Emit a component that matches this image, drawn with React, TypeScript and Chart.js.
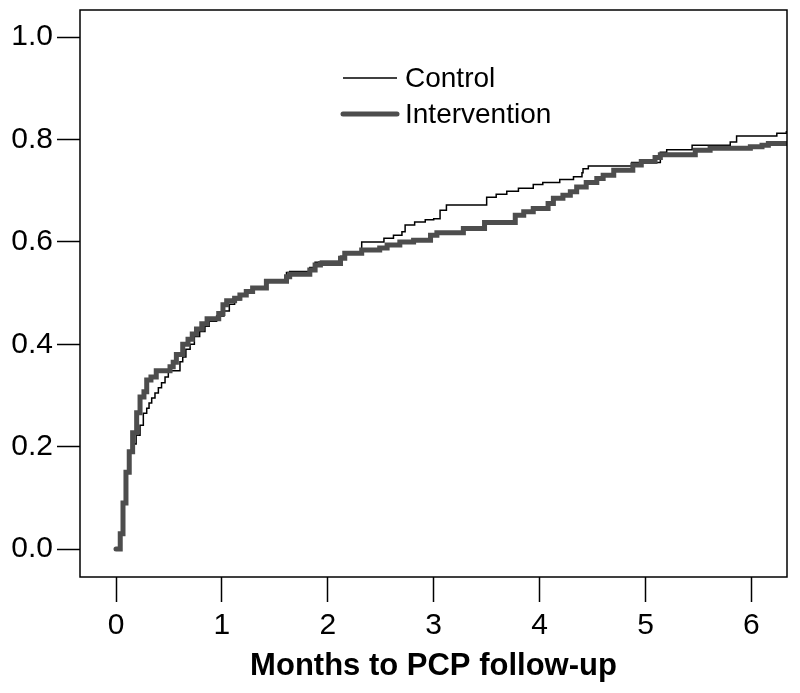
import React, { useEffect, useRef } from "react";
import { Chart, registerables } from "chart.js";

Chart.register(...registerables);

const controlMonths = [0, 0.04, 0.066, 0.094, 0.125, 0.157, 0.19, 0.227, 0.258, 0.29, 0.312, 0.337, 0.368, 0.4, 0.43, 0.463, 0.494, 0.604, 0.63, 0.66, 0.7, 0.74, 0.79, 0.84, 0.88, 0.95, 1.02, 1.07, 1.12, 1.18, 1.24, 1.3, 1.42, 1.61, 1.64, 1.83, 1.88, 1.93, 2.12, 2.16, 2.32, 2.53, 2.62, 2.7, 2.73, 2.82, 2.92, 3.0, 3.06, 3.12, 3.5, 3.59, 3.69, 3.8, 3.94, 4.03, 4.19, 4.32, 4.4, 4.41, 4.46, 4.87, 5.14, 5.2, 5.44, 5.8, 5.86, 6.24, 6.33, 6.4];
const controlProb = [0, 0.03, 0.09, 0.15, 0.19, 0.205, 0.222, 0.242, 0.265, 0.275, 0.285, 0.295, 0.305, 0.315, 0.325, 0.336, 0.348, 0.366, 0.375, 0.39, 0.4, 0.415, 0.425, 0.435, 0.445, 0.455, 0.465, 0.478, 0.487, 0.497, 0.503, 0.512, 0.525, 0.54, 0.542, 0.55, 0.56, 0.562, 0.572, 0.58, 0.6, 0.607, 0.613, 0.62, 0.633, 0.639, 0.643, 0.645, 0.662, 0.672, 0.687, 0.693, 0.699, 0.705, 0.712, 0.716, 0.722, 0.727, 0.735, 0.743, 0.748, 0.755, 0.775, 0.78, 0.789, 0.795, 0.807, 0.812, 0.815, 0.815];

const interventionMonths = [0, 0.04, 0.066, 0.094, 0.125, 0.157, 0.195, 0.227, 0.264, 0.29, 0.33, 0.38, 0.51, 0.54, 0.57, 0.63, 0.68, 0.72, 0.76, 0.81, 0.86, 0.97, 1.01, 1.045, 1.12, 1.17, 1.23, 1.29, 1.42, 1.61, 1.64, 1.83, 1.88, 1.93, 2.12, 2.16, 2.32, 2.49, 2.56, 2.68, 2.81, 2.97, 3.03, 3.28, 3.48, 3.77, 3.85, 3.94, 4.08, 4.13, 4.22, 4.29, 4.35, 4.44, 4.54, 4.6, 4.7, 4.88, 4.96, 5.09, 5.14, 5.47, 5.61, 5.99, 6.1, 6.16, 6.4];
const interventionProb = [0, 0.03, 0.09, 0.15, 0.19, 0.227, 0.266, 0.297, 0.307, 0.33, 0.336, 0.348, 0.356, 0.365, 0.38, 0.4, 0.41, 0.42, 0.43, 0.44, 0.45, 0.46, 0.477, 0.485, 0.49, 0.496, 0.503, 0.51, 0.523, 0.532, 0.537, 0.545, 0.555, 0.558, 0.568, 0.578, 0.584, 0.588, 0.594, 0.6, 0.603, 0.613, 0.618, 0.626, 0.638, 0.652, 0.659, 0.665, 0.675, 0.685, 0.691, 0.698, 0.707, 0.716, 0.724, 0.73, 0.74, 0.75, 0.757, 0.765, 0.77, 0.779, 0.783, 0.786, 0.789, 0.792, 0.792];

const seriesLabels = ["Control", "Intervention"];
const xTicks = [0, 1, 2, 3, 4, 5, 6];
const yTicks = [0, 0.2, 0.4, 0.6, 0.8, 1.0];
const xTitle = "Months to PCP follow-up";

const FONT = "'Liberation Sans', Arial, sans-serif";

const framePlugin = {
  id: "frameAndLegend",
  afterDatasetsDraw(chart: any) {
    const { ctx, chartArea } = chart;
    ctx.save();
    ctx.strokeStyle = "#000";
    ctx.lineWidth = 1.5;
    ctx.strokeRect(chartArea.left, chartArea.top, chartArea.right - chartArea.left, chartArea.bottom - chartArea.top);
    const items = chart.data.datasets;
    const x0 = 343, x1 = 397;
    const ys = [78, 114];
    items.forEach((ds: any, i: number) => {
      ctx.beginPath();
      ctx.strokeStyle = ds.borderColor;
      ctx.lineWidth = ds.borderWidth;
      ctx.lineCap = ds.borderCapStyle || "butt";
      ctx.moveTo(x0, ys[i]);
      ctx.lineTo(x1, ys[i]);
      ctx.stroke();
      ctx.fillStyle = "#000";
      ctx.font = `28px ${FONT}`;
      ctx.textBaseline = "middle";
      ctx.textAlign = "left";
      ctx.fillText(ds.label, 405, ys[i] + 1);
    });
    ctx.restore();
  },
};

export default function App() {
  const ref = useRef<HTMLCanvasElement | null>(null);
  useEffect(() => {
    if (!ref.current) return;
    const chart = new Chart(ref.current, {
      type: "line",
      data: {
        datasets: [
          {
            label: seriesLabels[0],
            data: controlMonths.map((m, i) => ({ x: m, y: controlProb[i] })),
            borderColor: "#000000",
            borderWidth: 1.5,
            stepped: true,
            pointRadius: 0,
            fill: false,
            order: 1,
          },
          {
            label: seriesLabels[1],
            data: interventionMonths.map((m, i) => ({ x: m, y: interventionProb[i] })),
            borderColor: "#4d4d4d",
            borderWidth: 5,
            borderCapStyle: "round",
            stepped: true,
            pointRadius: 0,
            fill: false,
            order: 0,
          },
        ],
      },
      options: {
        animation: false,
        responsive: true,
        maintainAspectRatio: false,
        layout: { padding: { top: 10, right: 13, left: 0, bottom: 0 } },
        plugins: { legend: { display: false }, tooltip: { enabled: false } },
        scales: {
          x: {
            type: "linear",
            min: -0.34,
            max: 6.336,
            afterBuildTicks: (s: any) => { s.ticks = xTicks.map((v) => ({ value: v })); },
            afterFit: (s: any) => { s.height = 116; s.paddingLeft = 0; s.paddingRight = 0; },
            border: { display: false },
            grid: { display: true, drawOnChartArea: false, drawTicks: true, tickLength: 25, tickColor: "#000", tickWidth: 1.5 },
            ticks: { color: "#000", font: { family: FONT, size: 30 }, padding: 6, autoSkip: false, maxRotation: 0, callback: (v: any) => String(v) },
            title: { display: true, text: xTitle, color: "#000", font: { family: FONT, size: 31, weight: "bold" }, padding: { top: 0, bottom: 8 } },
          },
          y: {
            type: "linear",
            min: -0.0547,
            max: 1.053,
            afterBuildTicks: (s: any) => { s.ticks = yTicks.map((v) => ({ value: v })); },
            afterFit: (s: any) => { s.width = 80; s.paddingTop = 0; s.paddingBottom = 0; },
            border: { display: false },
            grid: { display: true, drawOnChartArea: false, drawTicks: true, tickLength: 23, tickColor: "#000", tickWidth: 1.5 },
            ticks: { color: "#000", font: { family: FONT, size: 30 }, padding: 4, autoSkip: false, callback: (v: any) => Number(v).toFixed(1) },
          },
        },
      },
      plugins: [framePlugin],
    });
    return () => chart.destroy();
  }, []);
  return (
    <div style={{ position: "absolute", left: 0, top: 0, width: 800, height: 693, background: "#fff" }}>
      <canvas ref={ref} />
    </div>
  );
}
